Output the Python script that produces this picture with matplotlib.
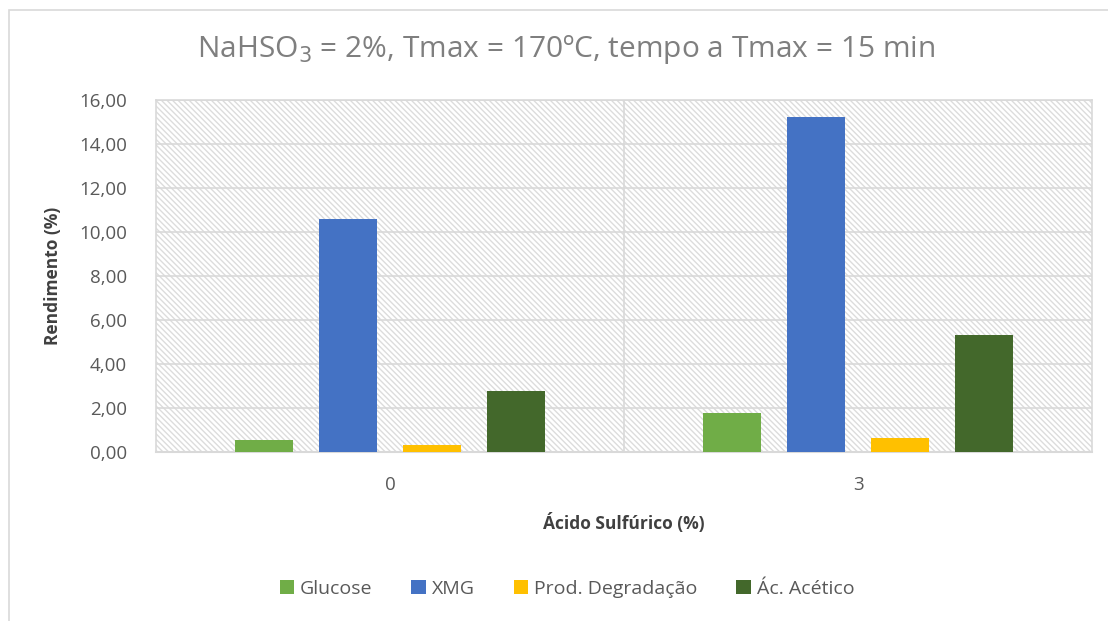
import matplotlib
matplotlib.use("Agg")
import matplotlib.pyplot as plt
from matplotlib.patches import Rectangle
import numpy as np

categories = ["0", "3"]
series_names = ["Glucose", "XMG", "Prod. Degradação", "Ác. Acético"]
glucose = [0.55, 1.78]
xmg = [10.57, 15.22]
prod_degr = [0.30, 0.64]
ac_acetico = [2.78, 5.33]
yticks = [0, 2, 4, 6, 8, 10, 12, 14, 16]
ytick_labels = ["0,00", "2,00", "4,00", "6,00", "8,00", "10,00", "12,00", "14,00", "16,00"]
colors = ["#70ad47", "#4472c4", "#ffc000", "#43682b"]

plt.rcParams['font.family'] = ['Open Sans', 'DejaVu Sans']
plt.rcParams['hatch.linewidth'] = 1.0

fig = plt.figure(figsize=(11.08, 6.21), dpi=100)
W, H = 1108, 621
ax = fig.add_axes([156 / W, 1 - 452 / H, (1092 - 156) / W, (452 - 100) / H])

# outer chart border
fig.patches.append(Rectangle((9 / W, -0.05), 1.2, 1 - 10 / H + 0.05, transform=fig.transFigure,
                             fill=False, edgecolor='#d9d9d9', linewidth=1.2, zorder=0))

hp = Rectangle((0, 0), 1, 1, transform=ax.transAxes, facecolor='white',
               edgecolor='#dcdcdc', linewidth=0, hatch='\\\\\\\\\\\\', zorder=0.5)
ax.add_patch(hp)

data = [glucose, xmg, prod_degr, ac_acetico]
x = np.arange(len(categories))
bw = 0.124
step = 0.179
for i, (vals, c, name) in enumerate(zip(data, colors, series_names)):
    ax.bar(x + (i - 1.5) * step, vals, width=bw, color=c, label=name, zorder=3)

ax.set_xlim(-0.5, 1.5)
ax.set_ylim(0, 16)
ax.set_yticks(yticks)
ax.set_yticklabels(ytick_labels)
ax.set_xticks(x)
ax.set_xticklabels(categories)
ax.yaxis.grid(True, color='#d9d9d9', linewidth=1.2, zorder=1)
ax.axvline(0.5, color='#d9d9d9', linewidth=1.2, zorder=1)
for s in ax.spines.values():
    s.set_color('#d9d9d9')
    s.set_linewidth(1.2)
ax.spines['bottom'].set_linewidth(1.5)
ax.tick_params(axis='both', length=0, labelsize=13.5, colors='#595959')
ax.tick_params(axis='y', pad=21)
ax.tick_params(axis='x', pad=17)

ax.set_ylabel("Rendimento (%)", fontsize=12.5, fontweight='bold', color='#404040', labelpad=12)
ax.set_xlabel("Ácido Sulfúrico (%)", fontsize=12.5, fontweight='bold', color='#404040', labelpad=14)

fig.text(566 / W, 1 - 49 / H, "NaHSO$_3$ = 2%, Tmax = 170ºC, tempo a Tmax = 15 min",
         ha='center', va='center', fontsize=21.5, color='#7f7f7f')

fig.legend(loc='center', bbox_to_anchor=(567 / W, 1 - 589 / H), ncol=4, frameon=False,
           fontsize=14, labelcolor='#595959', handlelength=0.75, handleheight=0.75,
           handletextpad=0.3, columnspacing=2.0)

fig.savefig("out.png", dpi=100)
